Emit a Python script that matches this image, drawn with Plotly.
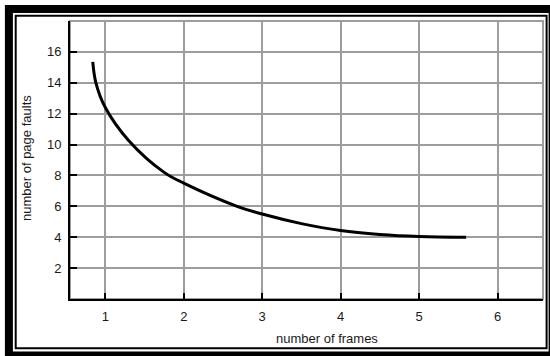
import plotly.graph_objects as go

# Page faults vs. number of frames (smooth decreasing curve)
frames = [0.84, 0.88, 1.0, 1.3, 1.75, 2.0, 2.68, 3.0, 3.5, 4.0, 4.5, 5.0, 5.6]
page_faults = [15.35, 14.0, 12.4, 10.25, 8.2, 7.5, 6.0, 5.5, 4.88, 4.43, 4.18, 4.05, 4.0]

x_ticks = [1, 2, 3, 4, 5, 6]
y_ticks = [2, 4, 6, 8, 10, 12, 14, 16]

W, H = 550, 356
ML, MR, MT, MB = 70, 7, 21, 57
PW, PH = W - ML - MR, H - MT - MB


def fx(px):
    return (px - ML) / PW


def fy(py):
    return (H - MB - py) / PH


FONT = "Liberation Sans, Arial, sans-serif"
GRID = "#9d9d9d"

fig = go.Figure()
fig.add_trace(go.Scatter(
    x=frames, y=page_faults, mode="lines",
    line=dict(color="black", width=3, shape="spline", smoothing=1.0),
    hoverinfo="skip", showlegend=False,
))

axis_common = dict(
    ticks="inside", tickcolor="black", tickwidth=2,
    showgrid=True, gridcolor=GRID, gridwidth=2,
    showline=True, linecolor="black", linewidth=2,
    zeroline=False, tickfont=dict(family=FONT, size=13, color="#1a1a1a"),
    fixedrange=True,
)

fig.update_xaxes(range=[0.55, 6.58], tickvals=x_ticks, ticklen=6,
                 ticklabelstandoff=4, **axis_common)
fig.update_yaxes(range=[0, 18], tickvals=y_ticks, ticklen=7,
                 ticklabelstandoff=4, **axis_common)

shapes = [
    # gray top/right border of the plotting area
    dict(type="rect", xref="paper", yref="paper", x0=0, x1=1, y0=0, y1=1,
         line=dict(color=GRID, width=2), layer="below"),
    # thin inner frame
    dict(type="rect", xref="paper", yref="paper",
         x0=fx(15.7), x1=fx(546.6), y0=fy(348.3), y1=fy(15.7),
         line=dict(color="black", width=2)),
    # heavy outer frame
    dict(type="rect", xref="paper", yref="paper",
         x0=fx(8.9), x1=fx(552.6), y0=fy(355.6), y1=fy(8.9),
         line=dict(color="black", width=8)),
]

annotations = [
    dict(text="number of frames", xref="paper", yref="paper",
         x=fx(327), y=fy(338), xanchor="center", yanchor="middle",
         showarrow=False, font=dict(family=FONT, size=13, color="#1a1a1a")),
    dict(text="number of page faults", xref="paper", yref="paper",
         x=fx(26), y=fy(158), xanchor="center", yanchor="middle",
         textangle=-90, showarrow=False,
         font=dict(family=FONT, size=13, color="#1a1a1a")),
]

fig.update_layout(
    width=W, height=H,
    margin=dict(l=ML, r=MR, t=MT, b=MB, pad=0),
    paper_bgcolor="white", plot_bgcolor="white",
    shapes=shapes, annotations=annotations,
    showlegend=False,
)

fig.write_html("out.html", config={"displayModeBar": False})
